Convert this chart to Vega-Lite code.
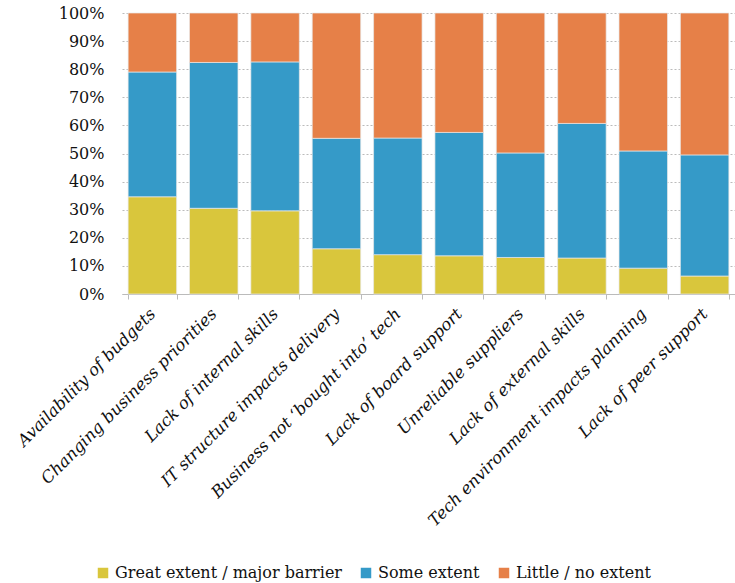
{
  "$schema": "https://vega.github.io/schema/vega-lite/v6.json",
  "width": 613,
  "height": 281,
  "autosize": "none",
  "padding": {"left": 122, "top": 13, "right": 0, "bottom": 289},
  "background": "white",
  "data": {
    "values": [
      {"cat": "Availability of budgets", "s": "Great extent / major barrier", "o": 1, "v": 34.6},
      {"cat": "Availability of budgets", "s": "Some extent", "o": 2, "v": 44.4},
      {"cat": "Availability of budgets", "s": "Little / no extent", "o": 3, "v": 21.0},
      {"cat": "Changing business priorities", "s": "Great extent / major barrier", "o": 1, "v": 30.5},
      {"cat": "Changing business priorities", "s": "Some extent", "o": 2, "v": 51.9},
      {"cat": "Changing business priorities", "s": "Little / no extent", "o": 3, "v": 17.6},
      {"cat": "Lack of internal skills", "s": "Great extent / major barrier", "o": 1, "v": 29.6},
      {"cat": "Lack of internal skills", "s": "Some extent", "o": 2, "v": 53.0},
      {"cat": "Lack of internal skills", "s": "Little / no extent", "o": 3, "v": 17.4},
      {"cat": "IT structure impacts delivery", "s": "Great extent / major barrier", "o": 1, "v": 16.1},
      {"cat": "IT structure impacts delivery", "s": "Some extent", "o": 2, "v": 39.3},
      {"cat": "IT structure impacts delivery", "s": "Little / no extent", "o": 3, "v": 44.6},
      {"cat": "Business not ‘bought into’ tech", "s": "Great extent / major barrier", "o": 1, "v": 14.0},
      {"cat": "Business not ‘bought into’ tech", "s": "Some extent", "o": 2, "v": 41.5},
      {"cat": "Business not ‘bought into’ tech", "s": "Little / no extent", "o": 3, "v": 44.5},
      {"cat": "Lack of board support", "s": "Great extent / major barrier", "o": 1, "v": 13.6},
      {"cat": "Lack of board support", "s": "Some extent", "o": 2, "v": 43.9},
      {"cat": "Lack of board support", "s": "Little / no extent", "o": 3, "v": 42.5},
      {"cat": "Unreliable suppliers", "s": "Great extent / major barrier", "o": 1, "v": 13.0},
      {"cat": "Unreliable suppliers", "s": "Some extent", "o": 2, "v": 37.2},
      {"cat": "Unreliable suppliers", "s": "Little / no extent", "o": 3, "v": 49.8},
      {"cat": "Lack of external skills", "s": "Great extent / major barrier", "o": 1, "v": 12.8},
      {"cat": "Lack of external skills", "s": "Some extent", "o": 2, "v": 47.9},
      {"cat": "Lack of external skills", "s": "Little / no extent", "o": 3, "v": 39.3},
      {"cat": "Tech environment impacts planning", "s": "Great extent / major barrier", "o": 1, "v": 9.2},
      {"cat": "Tech environment impacts planning", "s": "Some extent", "o": 2, "v": 41.7},
      {"cat": "Tech environment impacts planning", "s": "Little / no extent", "o": 3, "v": 49.1},
      {"cat": "Lack of peer support", "s": "Great extent / major barrier", "o": 1, "v": 6.4},
      {"cat": "Lack of peer support", "s": "Some extent", "o": 2, "v": 43.1},
      {"cat": "Lack of peer support", "s": "Little / no extent", "o": 3, "v": 50.5}
    ]
  },
  "mark": {"type": "bar", "stroke": "#e8e8e8", "strokeWidth": 0.7},
  "encoding": {
    "x": {
      "field": "cat", "type": "nominal", "sort": null,
      "scale": {"paddingInner": 0.21, "paddingOuter": 0.1},
      "axis": {
        "title": null, "labelAngle": -45, "labelAlign": "right", "labelBaseline": "middle",
        "labelFont": "DejaVu Serif", "labelFontStyle": "italic", "labelFontSize": 16.5, "labelColor": "#111",
        "labelPadding": 12, "labelLimit": 400, "labelOverlap": false,
        "domainColor": "#bbbbbb", "tickColor": "#bbbbbb", "tickBand": "extent", "tickSize": 5,
        "grid": false
      }
    },
    "y": {
      "field": "v", "type": "quantitative", "stack": "normalize",
      "scale": {"domain": [0, 1], "nice": false},
      "axis": {
        "title": null, "format": ".0%", "values": [0, 0.1, 0.2, 0.3, 0.4, 0.5, 0.6, 0.7, 0.8, 0.9, 1],
        "labelOverlap": false,
        "labelFont": "DejaVu Serif", "labelFontSize": 16, "labelColor": "#111", "labelPadding": 18,
        "domain": false, "ticks": false,
        "grid": true, "gridColor": "#bbbbbb", "gridDash": [2, 2], "gridWidth": 1
      }
    },
    "color": {
      "field": "s", "type": "nominal",
      "scale": {
        "domain": ["Great extent / major barrier", "Some extent", "Little / no extent"],
        "range": ["#d9c63c", "#359ac8", "#e68048"]
      },
      "legend": {
        "title": null, "orient": "none", "direction": "horizontal",
        "legendX": -27, "legendY": 552,
        "symbolType": "square", "symbolSize": 110, "symbolStrokeWidth": 0,
        "labelFont": "DejaVu Serif", "labelFontSize": 16, "labelColor": "#111",
        "labelOffset": 4, "columnPadding": 16, "labelLimit": 400
      }
    },
    "order": {"field": "o", "type": "quantitative"}
  },
  "config": {"view": {"stroke": null}}
}
